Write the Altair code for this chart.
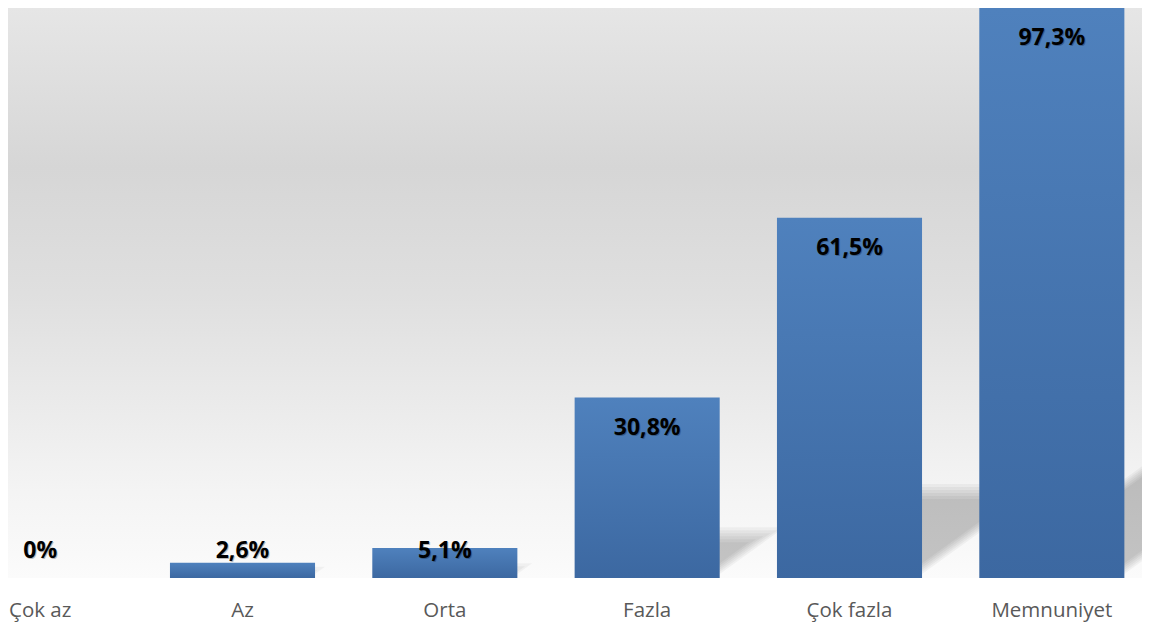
import altair as alt
import pandas as pd

categories = ["Çok az", "Az", "Orta", "Fazla", "Çok fazla", "Memnuniyet"]
values = [0, 2.6, 5.1, 30.8, 61.5, 97.3]
labels = ["0%", "2,6%", "5,1%", "30,8%", "61,5%", "97,3%"]

df = pd.DataFrame({"cat": categories, "v": values, "lab": labels})

W, H = 1134, 570
X_RANGE = [-69, 1145]
Y_MAX = 97.3
BAND_PAD = 0.283

# perspective shadow style: height ratio, slope, edge insets (px), blur offsets (px)
SH_K = 0.24
SH_SLOPE = 0.72
SH_LEFT_IN = 15
SH_RIGHT_IN = 13
SH_BLUR = [-7.5, -4.5, -1.5, 1.5, 4.5, 7.5]
SH_ALPHA = 0.04

px_per_val = H / Y_MAX
px_per_idx = (X_RANGE[1] - X_RANGE[0]) / len(categories)
half_px = (1 - BAND_PAD) / 2 * px_per_idx

rows = []
for i, (c, v) in enumerate(zip(categories, values)):
    if v <= 0:
        continue
    hv_px = SH_K * v * px_per_val
    for k, o in enumerate(SH_BLUR):
        hp = hv_px + o
        if hp <= 0.5:
            continue
        Lp = -half_px + SH_LEFT_IN - o
        Rp = half_px - SH_RIGHT_IN + o
        run = hp / SH_SLOPE
        for x in sorted({Lp, Rp, Lp + run, Rp + run}):
            top = min(hp, max(0.0, SH_SLOPE * (x - Lp)))
            bot = min(hp, max(0.0, SH_SLOPE * (x - Rp)))
            rows.append({
                "g": f"{i}-{k}",
                "sx": i + x / px_per_idx,
                "top": top / px_per_val,
                "bot": bot / px_per_val,
            })
shadow_df = pd.DataFrame(rows)

bar_grad = {
    "gradient": "linear", "x1": 0, "y1": 0, "x2": 0, "y2": 1,
    "stops": [{"offset": 0, "color": "#4f81bd"}, {"offset": 1, "color": "#3c68a1"}],
}
bg_grad = {
    "gradient": "linear", "x1": 0, "y1": 0, "x2": 0, "y2": 1,
    "stops": [
        {"offset": 0, "color": "#e6e6e6"},
        {"offset": 0.28, "color": "#d6d6d6"},
        {"offset": 0.5, "color": "#dfdfdf"},
        {"offset": 0.7, "color": "#ebebeb"},
        {"offset": 0.85, "color": "#f4f4f4"},
        {"offset": 1, "color": "#fbfbfb"},
    ],
}

xscale = alt.Scale(domain=categories, range=X_RANGE, paddingInner=BAND_PAD, paddingOuter=BAND_PAD / 2)
sxscale = alt.Scale(domain=[-0.5, len(categories) - 0.5], range=X_RANGE, nice=False, zero=False)
yscale = alt.Scale(domain=[0, Y_MAX], nice=False, zero=True)

xaxis = alt.Axis(
    title=None, labelAngle=0, ticks=False, domain=False, grid=False,
    labelFont="Open Sans", labelFontSize=20.5, labelColor="#595959",
    labelBaseline="alphabetic", labelPadding=38,
)

bg = alt.Chart(pd.DataFrame({"a": [0]})).mark_rect(fill=bg_grad).encode(
    x=alt.value(0), x2=alt.value(W), y=alt.value(0), y2=alt.value(H)
)

shadows = alt.Chart(shadow_df).mark_area(
    color="#000000", fillOpacity=SH_ALPHA, clip=True, interpolate="linear",
).encode(
    x=alt.X("sx:Q", scale=sxscale, axis=None),
    y=alt.Y("top:Q", scale=yscale, axis=None),
    y2="bot:Q",
    detail="g:N",
)

bars = alt.Chart(df).transform_filter("datum.v > 0").mark_bar(fill=bar_grad).encode(
    x=alt.X("cat:N", scale=xscale, sort=categories, axis=xaxis),
    y=alt.Y("v:Q", scale=yscale, axis=None),
)

base_text = alt.Chart(df).transform_calculate(lp="max(datum.v, 9.7)")

tshadow = base_text.mark_text(
    font="Open Sans", fontWeight="bold", fontSize=23, color="#000000", opacity=0.25,
    baseline="middle", dy=31, dx=1,
).encode(
    x=alt.X("cat:N", scale=xscale, sort=categories, axis=xaxis),
    y=alt.Y("lp:Q", scale=yscale, axis=None),
    text="lab:N",
)

text = base_text.mark_text(
    font="Open Sans", fontWeight="bold", fontSize=23, color="#000000",
    baseline="middle", dy=30,
).encode(
    x=alt.X("cat:N", scale=xscale, sort=categories, axis=xaxis),
    y=alt.Y("lp:Q", scale=yscale, axis=None),
    text="lab:N",
)

front = alt.layer(bars, tshadow, text)

chart = alt.layer(bg, shadows, front).resolve_scale(x="independent").properties(
    width=W, height=H,
    padding={"left": 0, "top": 0, "right": 0, "bottom": 45},
    autosize=alt.AutoSizeParams(type="none"),
    background="#ffffff",
).configure_view(stroke=None)

chart.save("out.html", embed_options={"renderer": "svg", "actions": False})
